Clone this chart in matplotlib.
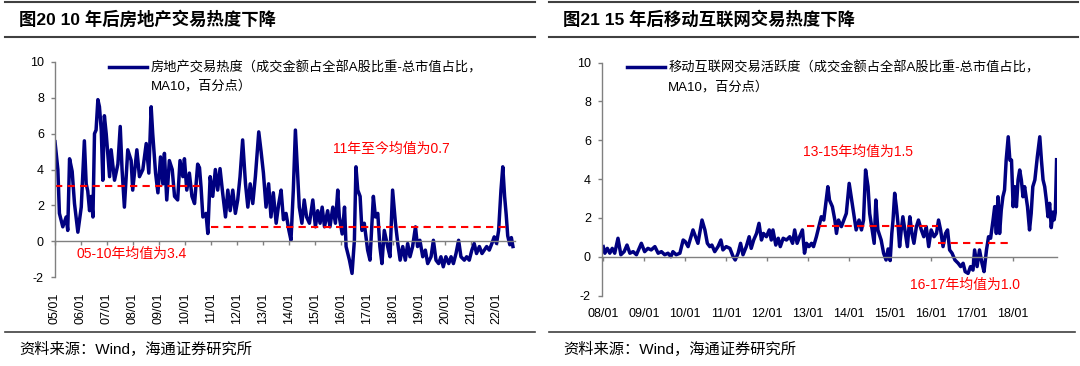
import matplotlib
matplotlib.use("Agg")
import matplotlib.pyplot as plt
from matplotlib.lines import Line2D

plt.rcParams['font.family'] = ['Liberation Sans', 'Noto Sans CJK SC']
plt.rcParams['axes.unicode_minus'] = False

# ---- left chart: real estate trading heat (decimal year, value) ----
re_years = [
    2005.00, 2005.11, 2005.17, 2005.30, 2005.43, 2005.49, 2005.56, 2005.66, 2005.75, 2005.88,
    2006.01, 2006.13, 2006.20, 2006.26, 2006.33, 2006.39, 2006.46, 2006.52, 2006.58, 2006.65,
    2006.71, 2006.78, 2006.84, 2006.90, 2006.97, 2007.10, 2007.16, 2007.29, 2007.42, 2007.51,
    2007.58, 2007.67, 2007.80, 2007.93, 2007.99, 2008.15, 2008.25, 2008.38, 2008.51, 2008.61,
    2008.70, 2008.76, 2008.87, 2008.96, 2009.06, 2009.15, 2009.21, 2009.30, 2009.40, 2009.51,
    2009.60, 2009.72, 2009.81, 2009.92, 2009.98, 2010.07, 2010.17, 2010.27, 2010.37, 2010.49,
    2010.56, 2010.62, 2010.69, 2010.81, 2010.88, 2010.97, 2011.07, 2011.17, 2011.26, 2011.35,
    2011.45, 2011.56, 2011.65, 2011.74, 2011.84, 2011.94, 2012.03, 2012.12, 2012.22, 2012.33,
    2012.42, 2012.51, 2012.61, 2012.71, 2012.84, 2012.93, 2013.02, 2013.12, 2013.22, 2013.31,
    2013.40, 2013.51, 2013.61, 2013.70, 2013.79, 2013.89, 2014.00, 2014.08, 2014.17, 2014.25,
    2014.34, 2014.40, 2014.50, 2014.59, 2014.68, 2014.79, 2014.92, 2015.02, 2015.11, 2015.20,
    2015.28, 2015.37, 2015.49, 2015.58, 2015.69, 2015.79, 2015.88, 2015.94, 2016.05, 2016.14,
    2016.20, 2016.33, 2016.43, 2016.52, 2016.58, 2016.65, 2016.74, 2016.81, 2016.90, 2017.03,
    2017.12, 2017.25, 2017.33, 2017.42, 2017.50, 2017.58, 2017.67, 2017.80, 2017.89, 2017.99,
    2018.10, 2018.19, 2018.28, 2018.38, 2018.48, 2018.57, 2018.66, 2018.76, 2018.87, 2018.95,
    2019.04, 2019.15, 2019.25, 2019.34, 2019.47, 2019.56, 2019.66, 2019.76, 2019.85, 2019.94,
    2020.04, 2020.15, 2020.24, 2020.33, 2020.43, 2020.53, 2020.62, 2020.75, 2020.84, 2020.94,
    2021.04, 2021.13, 2021.22, 2021.33, 2021.43, 2021.52, 2021.61, 2021.71, 2021.81, 2021.90,
    2021.99, 2022.07, 2022.16, 2022.23, 2022.30, 2022.36, 2022.42, 2022.50, 2022.56, 2022.62,
]
re_heat = [
    5.55, 4.0, 1.55, 0.8, 1.35, 0.6, 4.6, 3.9, 2.1, 0.5,
    1.9, 5.6, 3.2, 2.8, 1.7, 2.5, 1.35, 6.0, 6.2, 7.9,
    7.5, 6.2, 3.4, 7.0, 6.0, 3.6, 5.1, 3.4, 4.3, 6.4,
    4.0, 1.9, 5.1, 4.5, 2.85, 5.1, 3.6, 4.0, 5.45, 3.8,
    7.5, 6.0, 3.8, 2.7, 4.7, 3.2, 4.9, 2.3, 4.5, 4.0,
    2.5, 2.3, 4.5, 3.6, 4.6, 2.85, 3.8, 2.5, 2.1, 4.3,
    4.1, 3.0, 1.35, 1.55, 0.43, 3.6, 2.5, 4.0, 2.85, 4.05,
    2.7, 1.35, 2.85, 1.7, 2.85, 1.55, 2.3, 3.6, 5.65, 3.2,
    1.9, 3.2, 2.1, 3.6, 6.1, 5.0, 3.8, 1.9, 3.2, 1.35,
    2.7, 1.0, 2.1, 2.85, 1.2, 1.55, 0.6, 0.05, 2.85, 6.2,
    3.6, 1.9, 1.0, 2.3, 1.35, 1.0, 2.3, 0.8, 1.7, 1.0,
    1.9, 0.8, 1.7, 0.8, 1.9, 1.0, 2.85, 1.35, 0.4, 1.9,
    -0.3, -1.06, -1.8, 0.05, 4.15, 2.85, 2.5, 0.6, 1.0, -0.5,
    -1.06, 2.5, 1.35, 1.55, -0.3, -1.25, 0.6, -0.3, -0.87, 2.85,
    1.0, -0.13, -1.06, -0.3, -1.06, -0.13, -0.87, -0.3, 0.8, -0.3,
    0.05, -0.87, -0.5, -1.25, -0.87, 0.05, -1.06, -1.25, -0.87, -1.43,
    -0.87, -1.25, -0.87, -1.25, -0.69, 0.05, -0.87, -1.06, -0.87, -1.06,
    -0.5, -0.13, -0.69, -0.3, -0.69, -0.5, -0.3, -0.5, -0.13, 0.24,
    -0.13, 0.6, 2.85, 4.15, 2.5, 1.5, 0.3, -0.2, 0.2, -0.3,
]
re_ticks = list(range(2005, 2023))
re_ticklabels = ['%02d/01' % (y % 100) for y in re_ticks]
re_means = [3.1, 0.8]
re_mean_spans = [(2005.0, 2010.67), (2011.0, 2022.35)]

# ---- right chart: mobile internet trading activity ----
mi_years = [
    2008.00, 2008.04, 2008.10, 2008.16, 2008.22, 2008.28, 2008.36, 2008.43, 2008.51, 2008.58,
    2008.65, 2008.73, 2008.81, 2008.93, 2009.01, 2009.09, 2009.17, 2009.26, 2009.34, 2009.42,
    2009.50, 2009.58, 2009.65, 2009.70, 2009.78, 2009.87, 2009.95, 2010.00, 2010.07, 2010.13,
    2010.19, 2010.25, 2010.31, 2010.41, 2010.48, 2010.54, 2010.60, 2010.65, 2010.72, 2010.80,
    2010.87, 2010.92, 2011.00, 2011.09, 2011.17, 2011.22, 2011.29, 2011.35, 2011.41, 2011.49,
    2011.56, 2011.61, 2011.67, 2011.74, 2011.80, 2011.86, 2011.91, 2011.98, 2012.05, 2012.10,
    2012.14, 2012.21, 2012.27, 2012.32, 2012.39, 2012.47, 2012.55, 2012.62, 2012.67, 2012.73,
    2012.79, 2012.86, 2012.91, 2012.96, 2013.02, 2013.08, 2013.13, 2013.20, 2013.26, 2013.32,
    2013.38, 2013.43, 2013.48, 2013.52, 2013.59, 2013.65, 2013.69, 2013.74, 2013.81, 2013.87,
    2013.93, 2014.00, 2014.05, 2014.11, 2014.17, 2014.24, 2014.30, 2014.35, 2014.40, 2014.46,
    2014.50, 2014.56, 2014.61, 2014.65, 2014.70, 2014.78, 2014.84, 2014.90, 2014.95, 2015.00,
    2015.04, 2015.07, 2015.11, 2015.15, 2015.19, 2015.23, 2015.27, 2015.31, 2015.37, 2015.42,
    2015.48, 2015.53, 2015.58, 2015.64, 2015.69, 2015.76, 2015.82, 2015.88, 2015.94, 2016.00,
    2016.07, 2016.13, 2016.18, 2016.23, 2016.29, 2016.35, 2016.40, 2016.45, 2016.51, 2016.58,
    2016.66, 2016.72, 2016.78, 2016.83, 2016.90, 2016.96, 2017.02, 2017.06, 2017.12, 2017.18,
    2017.24, 2017.29, 2017.35, 2017.40, 2017.45, 2017.51, 2017.55, 2017.59, 2017.63, 2017.67,
    2017.71, 2017.75, 2017.79, 2017.83, 2017.88, 2017.92, 2017.96, 2018.00, 2018.04, 2018.08,
    2018.12, 2018.16, 2018.20, 2018.24, 2018.28, 2018.35, 2018.40, 2018.44, 2018.48, 2018.53,
    2018.59, 2018.65, 2018.69, 2018.73, 2018.77, 2018.81, 2018.85, 2018.89, 2018.93, 2018.97,
    2019.00, 2019.03, 2019.06,
]
mi_heat = [
    0.52, 0.18, 0.43, 0.18, 0.43, 0.18, 0.95, 0.1, 0.26, 0.6,
    0.18, 0.26, 0.1, 0.69, 0.26, 0.43, 0.35, 0.52, 0.18, 0.26,
    0.1, 0.18, 0.0, 0.26, 0.1, 0.18, 0.86, 0.78, 0.52, 0.95,
    1.38, 1.03, 0.69, 1.89, 1.38, 0.69, 0.52, 0.6, 0.26, 0.52,
    0.86, 0.35, 0.52, 0.43, 0.0, -0.17, 0.18, 0.69, 0.1, 0.52,
    1.03, 0.43, 0.86, 1.2, 1.72, 0.86, 1.2, 1.03, 1.38, 0.86,
    1.38, 0.6, 0.95, 0.52, 0.95, 0.86, 1.03, 0.69, 1.38, 0.69,
    1.03, 1.38, 0.18, 0.69, 0.52, 0.69, 0.52, 1.03, 1.55, 2.06,
    1.89, 2.75, 3.61, 2.92, 2.58, 1.89, 1.2, 1.89, 1.55, 1.89,
    2.23, 3.78, 3.09, 2.23, 1.38, 1.89, 1.38, 1.89, 4.47, 3.61,
    2.23, 1.38, 0.69, 2.92, 1.38, 0.86, 0.18, -0.17, 0.4, -0.2,
    1.2, 1.89, 3.27, 2.58, 1.72, 0.52, 1.38, 2.06, 1.2, 0.52,
    2.06, 1.2, 0.69, 1.55, 1.89, 1.38, 1.03, 1.55, 0.52, 1.38,
    1.03, 1.2, 1.89, 1.38, 0.52, 1.2, 1.38, 0.35, 0.18, -0.17,
    -0.34, -0.51, -0.34, -0.77, -0.86, -0.51, -0.69, 0.35, -0.51, 0.35,
    -0.34, -0.77, 0.35, 1.03, 0.95, 1.89, 2.58, 1.2, 3.09, 1.2,
    2.4, 3.09, 3.44, 4.98, 6.18, 4.98, 4.98, 2.58, 3.61, 2.58,
    3.96, 4.47, 3.96, 3.09, 3.61, 2.58, 1.38, 2.23, 3.61, 3.96,
    5.15, 6.18, 4.98, 3.96, 3.61, 2.92, 2.06, 2.75, 1.5, 2.3,
    1.9, 2.3, 5.0,
]
mi_ticks = list(range(2008, 2019))
mi_ticklabels = ['%02d/01' % (y % 100) for y in mi_ticks]
mi_means = [1.58, 0.69]
mi_mean_spans = [(2012.96, 2016.17), (2016.17, 2018.0)]

W, H = 1080, 366
fig = plt.figure(figsize=(W / 100, H / 100), dpi=100)


def px(x, y):
    return x / W, 1 - y / H


def style_axes(ax, ticks, labels, rot):
    for s in ['top', 'right']:
        ax.spines[s].set_visible(False)
    for s in ['left', 'bottom']:
        ax.spines[s].set_color('#808080')
        ax.spines[s].set_linewidth(1.0)
    ax.spines['bottom'].set_position(('data', 0))
    ax.set_ylim(-2, 10)
    ax.set_yticks([-2, 0, 2, 4, 6, 8, 10])
    ax.set_xticks(ticks)
    ax.set_xticklabels(labels, rotation=rot)
    ax.tick_params(axis='both', colors='#808080', labelcolor='black',
                   labelsize=9, length=3, width=1, direction='out')
    ax.tick_params(axis='x', pad=34)
    ax.tick_params(axis='y', pad=5)


def add_legend(ax, x, second):
    leg = ax.legend(loc='upper left', bbox_to_anchor=(x, 1.005), frameon=False,
                    borderaxespad=0, borderpad=0, handlelength=2.9,
                    handletextpad=0.25, fontsize=9.5)
    # second line of the label, hung under the first one (drawn after the legend)
    ax.annotate(second, xy=(0, 0), xycoords=leg.get_texts()[0],
                xytext=(0, -4), textcoords='offset points',
                fontsize=9.5, va='top', ha='left', zorder=10)


line_c = '#000080'
red = '#FF0000'
dash = (0, (3.5, 2.5))

# left panel
ax1 = fig.add_axes([55 / W, 1 - 277 / H, 460 / W, 215 / H])
ax1.plot(re_years, re_heat, color=line_c, lw=2.5,
         label='房地产交易热度（成交金额占全部A股比重-总市值占比，')
for m, (a, b) in zip(re_means, re_mean_spans):
    ax1.plot([a, b], [m, m], color=red, lw=1.5, ls=dash)
ax1.set_xlim(2005.0, 2022.7)
style_axes(ax1, re_ticks, re_ticklabels, 90)
ax1.text(2015.71, 5.16, '11年至今均值为0.7', color=red, fontsize=10, va='center', ha='left')
ax1.text(2005.84, -0.69, '05-10年均值为3.4', color=red, fontsize=10, va='center', ha='left')
add_legend(ax1, 0.117, 'MA10，百分点）')

# right panel
ax2 = fig.add_axes([602 / W, 1 - 295.5 / H, 455 / W, 232.8 / H])
ax2.plot(mi_years, mi_heat, color=line_c, lw=2.5,
         label='移动互联网交易活跃度（成交金额占全部A股比重-总市值占比，')
for m, (a, b) in zip(mi_means, mi_mean_spans):
    ax2.plot([a, b], [m, m], color=red, lw=1.5, ls=dash)
ax2.set_xlim(2007.97, 2019.07)
style_axes(ax2, mi_ticks, mi_ticklabels, 0)
ax2.text(2012.87, 5.41, '13-15年均值为1.5', color=red, fontsize=10, va='center', ha='left')
ax2.text(2015.48, -1.46, '16-17年均值为1.0', color=red, fontsize=10, va='center', ha='left')
add_legend(ax2, 0.054, 'MA10，百分点）')

# titles, rules and source notes
for (x0, x1), title, src_x1 in [((5, 535), '图20 10 年后房地产交易热度下降', 535),
                                ((549, 1078), '图21 15 年后移动互联网交易热度下降', 1075)]:
    for yy in (2, 37):
        (fx0, fy), (fx1, _) = px(x0, yy), px(x1, yy)
        fig.add_artist(Line2D([fx0, fx1], [fy, fy], color='#404040', lw=1.5,
                              transform=fig.transFigure))
    (fx0, fy), (fx1, _) = px(x0, 332), px(src_x1, 332)
    fig.add_artist(Line2D([fx0, fx1], [fy, fy], color='#404040', lw=1.2,
                          transform=fig.transFigure))
    tx, ty = px(x0 + 14, 19)
    fig.text(tx, ty, title, fontsize=12.5, fontweight='bold', va='center', ha='left')
    sx, sy = px(x0 + 14, 349.5)
    fig.text(sx, sy, '资料来源：Wind，海通证券研究所', fontsize=11, va='center', ha='left')

fig.savefig('out.png', dpi=100)
